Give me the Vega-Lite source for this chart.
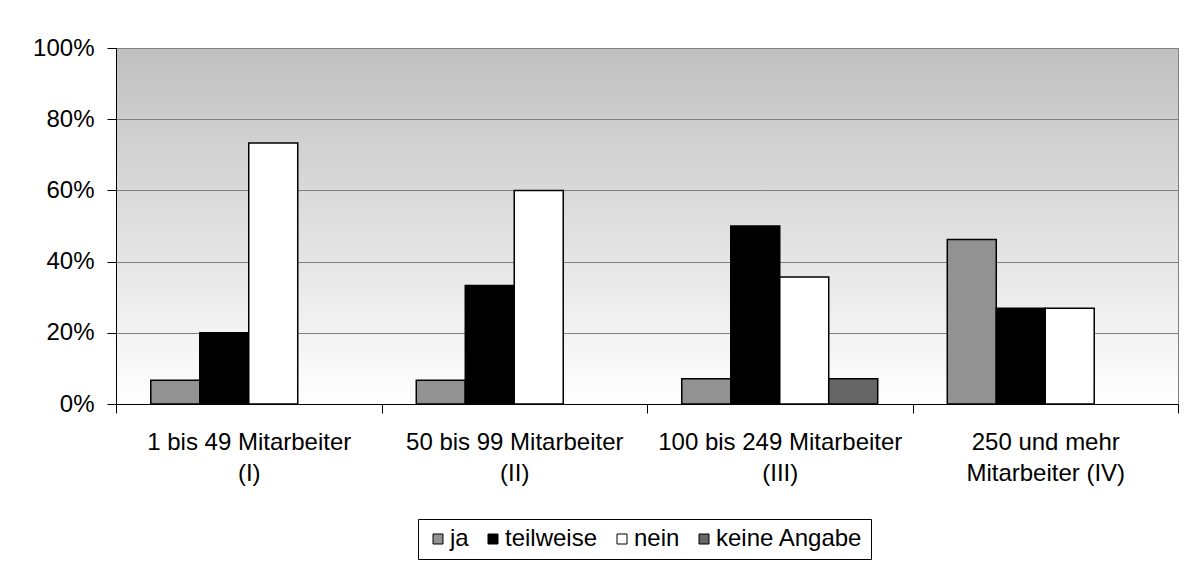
{
  "$schema": "https://vega.github.io/schema/vega-lite/v6.json",
  "width": 1062,
  "height": 356,
  "autosize": {"type": "none"},
  "padding": {"left": 116, "top": 48, "right": 18, "bottom": 163},
  "background": "white",
  "config": {
    "font": "Liberation Sans",
    "view": {
      "stroke": "#808080",
      "strokeWidth": 1,
      "fill": {
        "gradient": "linear",
        "x1": 0, "y1": 0, "x2": 0, "y2": 1,
        "stops": [
          {"offset": 0, "color": "#c0c0c0"},
          {"offset": 1, "color": "#ffffff"}
        ]
      }
    }
  },
  "data": {
    "values": [
      {"groesse": "1 bis 49 Mitarbeiter\n(I)", "antwort": "ja", "anteil": 6.7},
      {"groesse": "1 bis 49 Mitarbeiter\n(I)", "antwort": "teilweise", "anteil": 20.0},
      {"groesse": "1 bis 49 Mitarbeiter\n(I)", "antwort": "nein", "anteil": 73.3},
      {"groesse": "50 bis 99 Mitarbeiter\n(II)", "antwort": "ja", "anteil": 6.7},
      {"groesse": "50 bis 99 Mitarbeiter\n(II)", "antwort": "teilweise", "anteil": 33.3},
      {"groesse": "50 bis 99 Mitarbeiter\n(II)", "antwort": "nein", "anteil": 60.0},
      {"groesse": "100 bis 249 Mitarbeiter\n(III)", "antwort": "ja", "anteil": 7.1},
      {"groesse": "100 bis 249 Mitarbeiter\n(III)", "antwort": "teilweise", "anteil": 50.0},
      {"groesse": "100 bis 249 Mitarbeiter\n(III)", "antwort": "nein", "anteil": 35.7},
      {"groesse": "100 bis 249 Mitarbeiter\n(III)", "antwort": "keine Angabe", "anteil": 7.1},
      {"groesse": "250 und mehr\nMitarbeiter (IV)", "antwort": "ja", "anteil": 46.2},
      {"groesse": "250 und mehr\nMitarbeiter (IV)", "antwort": "teilweise", "anteil": 26.9},
      {"groesse": "250 und mehr\nMitarbeiter (IV)", "antwort": "nein", "anteil": 26.9}
    ]
  },
  "mark": {"type": "bar", "stroke": "black", "strokeWidth": 1.5},
  "encoding": {
    "x": {
      "field": "groesse",
      "type": "nominal",
      "sort": null,
      "scale": {"paddingInner": 0, "paddingOuter": 0},
      "axis": {
        "title": null,
        "labelAngle": 0,
        "labelExpr": "split(datum.label, '\\n')",
        "labelFontSize": 24,
        "labelLineHeight": 31,
        "labelColor": "black",
        "labelBaseline": "top",
        "labelPadding": 17,
        "labelLimit": 400,
        "labelOverlap": false,
        "labelFlush": false,
        "tickBand": "extent",
        "tickSize": 9,
        "tickColor": "black",
        "domainColor": "black",
        "domainWidth": 1
      }
    },
    "xOffset": {
      "field": "antwort",
      "type": "nominal",
      "sort": ["ja", "teilweise", "nein", "keine Angabe"],
      "scale": {
        "domain": ["ja", "teilweise", "nein", "keine Angabe"],
        "paddingInner": 0,
        "paddingOuter": 0.71
      }
    },
    "y": {
      "field": "anteil",
      "type": "quantitative",
      "scale": {"domain": [0, 100], "nice": false},
      "axis": {
        "title": null,
        "values": [0, 20, 40, 60, 80, 100],
        "labelExpr": "datum.value + '%'",
        "labelFontSize": 24,
        "labelColor": "black",
        "labelPadding": 13,
        "tickSize": 9,
        "tickColor": "black",
        "domainColor": "black",
        "grid": true,
        "gridColor": "#808080",
        "gridWidth": 1
      }
    },
    "fill": {
      "field": "antwort",
      "type": "nominal",
      "scale": {
        "domain": ["ja", "teilweise", "nein", "keine Angabe"],
        "range": ["#929292", "#000000", "#ffffff", "#666666"]
      },
      "legend": {
        "title": null,
        "orient": "none",
        "legendX": 302,
        "legendY": 471,
        "direction": "horizontal",
        "fillColor": "white",
        "strokeColor": "black",
        "padding": 8,
        "symbolType": "square",
        "symbolSize": 100,
        "symbolStrokeColor": "black",
        "symbolStrokeWidth": 1,
        "symbolOpacity": 1,
        "labelFontSize": 24,
        "labelColor": "black",
        "labelOffset": 0,
        "columnPadding": 12
      }
    }
  }
}
